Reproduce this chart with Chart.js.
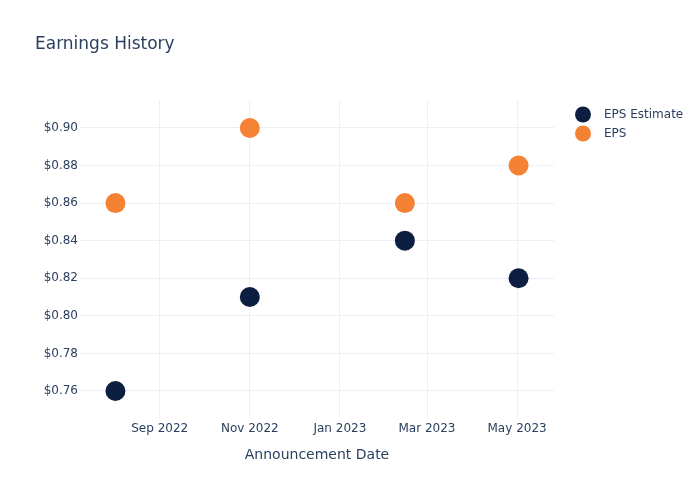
<!DOCTYPE html>
<html>
<head>
<meta charset="utf-8">
<script src="https://cdn.jsdelivr.net/npm/chart.js@4.4.0/dist/chart.umd.min.js"></script>
<style>
  html, body { margin: 0; padding: 0; background: #fff; }
  #wrap { width: 700px; height: 500px; position: relative; }
</style>
</head>
<body>
<div id="wrap"><canvas id="c" width="700" height="500"></canvas></div>
<script>
const chartTitle = "Earnings History";
const xAxisTitle = "Announcement Date";
const announcementDates = ["2022-08-02", "2022-11-01", "2023-02-14", "2023-05-02"];
const epsEstimate = [0.76, 0.81, 0.84, 0.82];
const epsActual = [0.86, 0.90, 0.86, 0.88];
const seriesNames = ["EPS Estimate", "EPS"];
const seriesColors = ["#0c1f41", "#f58234"];
const xTickDates = ["2022-09-01", "2022-11-01", "2023-01-01", "2023-03-01", "2023-05-01"];
const yTickValues = [0.76, 0.78, 0.80, 0.82, 0.84, 0.86, 0.88, 0.90];
const xRange = ["2022-07-09", "2023-05-26"];
const yRange = [0.7456, 0.9149];
const monthNames = ["Jan","Feb","Mar","Apr","May","Jun","Jul","Aug","Sep","Oct","Nov","Dec"];

function ts(s) { const p = s.split("-").map(Number); return Date.UTC(p[0], p[1]-1, p[2]); }
function fmtMonth(v) { const d = new Date(v); return monthNames[d.getUTCMonth()] + " " + d.getUTCFullYear(); }

const FONT = "'DejaVu Sans', Verdana, sans-serif";
const TEXT = "#2a3f5f";
const GRID = "#ebf0f8";

const overlay = {
  id: "overlay",
  afterDraw(chart) {
    const ctx = chart.ctx;
    ctx.save();
    ctx.fillStyle = TEXT;
    ctx.textBaseline = "middle";
    ctx.textAlign = "left";
    ctx.font = "17px " + FONT;
    ctx.fillText(chartTitle, 35, 45);
    ctx.font = "12px " + FONT;
    chart.data.datasets.forEach((ds, i) => {
      const y = 114.5 + i * 19;
      ctx.beginPath();
      ctx.arc(583, y, 8, 0, Math.PI * 2);
      ctx.fillStyle = ds.backgroundColor;
      ctx.fill();
      ctx.fillStyle = TEXT;
      ctx.fillText(ds.label, 604, y);
    });
    ctx.restore();
  }
};

const datasets = [epsEstimate, epsActual].map((vals, i) => ({
  label: seriesNames[i],
  data: announcementDates.map((d, j) => ({ x: ts(d), y: vals[j] })),
  backgroundColor: seriesColors[i],
  borderColor: seriesColors[i],
  borderWidth: 0,
  pointRadius: 10,
  pointHoverRadius: 10
}));

new Chart(document.getElementById("c"), {
  type: "scatter",
  data: { datasets },
  plugins: [overlay],
  options: {
    responsive: false,
    animation: false,
    devicePixelRatio: 1,
    layout: { padding: { top: 100, right: 146, left: 0, bottom: 36 } },
    plugins: { legend: { display: false }, title: { display: false }, tooltip: { enabled: false } },
    scales: {
      x: {
        type: "linear",
        min: ts(xRange[0]),
        max: ts(xRange[1]),
        afterBuildTicks(scale) { scale.ticks = xTickDates.map(d => ({ value: ts(d) })); },
        afterFit(scale) { scale.height = 46; },
        ticks: { callback: v => fmtMonth(v), color: TEXT, font: { family: FONT, size: 12 }, padding: 4, maxRotation: 0, autoSkip: false },
        grid: { color: GRID, drawTicks: false, lineWidth: 1 },
        border: { display: false },
        title: { display: true, text: xAxisTitle, color: TEXT, font: { family: FONT, size: 14 }, padding: { top: 9, bottom: 0 } }
      },
      y: {
        min: yRange[0],
        max: yRange[1],
        afterBuildTicks(scale) { scale.ticks = yTickValues.map(v => ({ value: v })); },
        afterFit(scale) { scale.width = 80; },
        ticks: { callback: v => "$" + v.toFixed(2), color: TEXT, font: { family: FONT, size: 12 }, padding: 2, autoSkip: false },
        grid: { color: GRID, drawTicks: false, lineWidth: 1 },
        border: { display: false }
      }
    }
  }
});
</script>
</body>
</html>
